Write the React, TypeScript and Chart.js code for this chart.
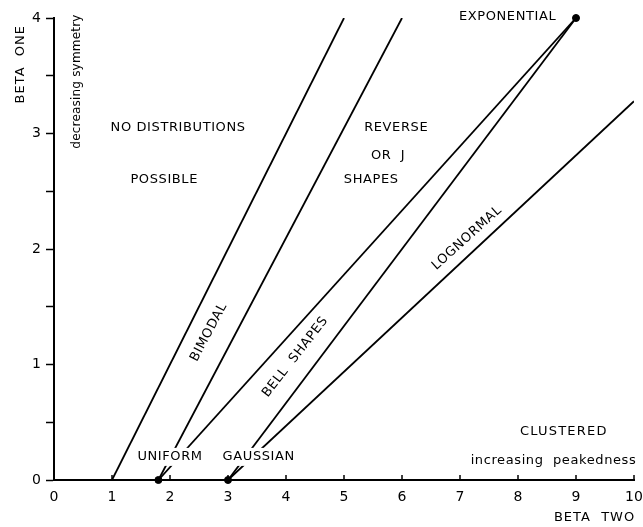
import React, { useEffect, useRef } from "react";
import { Chart, registerables } from "chart.js";

Chart.register(...registerables);

// ---- data ----
const xTickValues = [0, 1, 2, 3, 4, 5, 6, 7, 8, 9, 10];
const yTickStep = 0.5;
const yLabelledTicks = [0, 1, 2, 3, 4];

const impossibleBoundary: [number, number][] = [[1, 0], [5, 4]];
const bimodalBoundary: [number, number][] = [[1.8, 0], [6, 4]];
const uniformToExponential: [number, number][] = [[1.8, 0], [9, 4]];
const gaussianToExponential: [number, number][] = [[3, 0], [9, 4]];
const lognormalLine: [number, number][] = [[3, 0], [10, 3.28]];

const pointNames = ["UNIFORM", "GAUSSIAN", "EXPONENTIAL"];
const pointX = [1.8, 3, 9];
const pointY = [0, 0, 4];

// ---- annotation texts ----
const FONT = "'DejaVu Sans', sans-serif";
type Note = {
  text: string;
  x: number;
  y: number;
  rot?: number;
  align?: CanvasTextAlign;
  bg?: boolean;
  size?: number;
  spacing?: number;
};
const notes: Note[] = [
  { text: "NO DISTRIBUTIONS", x: 2.14, y: 3.05 },
  { text: "POSSIBLE", x: 1.9, y: 2.6 },
  { text: "REVERSE", x: 5.9, y: 3.05 },
  { text: "OR  J", x: 5.76, y: 2.81 },
  { text: "SHAPES", x: 5.47, y: 2.6 },
  { text: "EXPONENTIAL", x: 8.66, y: 4.01, align: "right" },
  { text: "BIMODAL", x: 2.67, y: 1.28, rot: -62 },
  { text: "BELL  SHAPES", x: 4.16, y: 1.065, rot: -52 },
  { text: "LOGNORMAL", x: 7.12, y: 2.095, rot: -42 },
  { text: "UNIFORM", x: 2.0, y: 0.2, bg: true },
  { text: "GAUSSIAN", x: 3.53, y: 0.2, bg: true },
  { text: "CLUSTERED", x: 8.79, y: 0.415, spacing: 1.2 },
  { text: "increasing  peakedness", x: 10.04, y: 0.165, align: "right", spacing: 0.6 },
  { text: "BETA  TWO", x: 10.02, y: -0.33, align: "right", spacing: 1 },
  { text: "BETA  ONE", x: -0.58, y: 3.6, rot: -90, spacing: 1 },
  { text: "decreasing symmetry", x: 0.4, y: 3.45, rot: -90, spacing: 0.2, size: 12 },
];

const toPts = (arr: [number, number][]) => arr.map(([x, y]) => ({ x, y }));

const notesPlugin = {
  id: "notes",
  afterDatasetsDraw(chart: any) {
    const { ctx, scales } = chart;
    const xs = scales.x;
    const ys = scales.y;
    // inner ticks on the x axis
    ctx.save();
    ctx.strokeStyle = "#000";
    ctx.lineWidth = 1.5;
    const bottom = chart.chartArea.bottom;
    xTickValues.forEach((v) => {
      const px = xs.getPixelForValue(v);
      ctx.beginPath();
      ctx.moveTo(px, bottom);
      ctx.lineTo(px, bottom - 5);
      ctx.stroke();
    });
    ctx.restore();

    notes.forEach((n) => {
      const px = xs.getPixelForValue(n.x);
      const py = ys.getPixelForValue(n.y);
      ctx.save();
      ctx.font = `${n.size ?? 13}px ${FONT}`;
      (ctx as any).letterSpacing = `${n.spacing ?? 0.6}px`;
      ctx.textAlign = n.align ?? "center";
      ctx.textBaseline = "middle";
      ctx.translate(px, py);
      if (n.rot) ctx.rotate((n.rot * Math.PI) / 180);
      if (n.bg) {
        const w = ctx.measureText(n.text).width;
        ctx.fillStyle = "#fff";
        ctx.fillRect(-w / 2 - 3, -9, w + 6, 18);
      }
      ctx.fillStyle = "#000";
      ctx.fillText(n.text, 0, 0);
      ctx.restore();
    });
  },
};

export default function App() {
  const ref = useRef<HTMLCanvasElement>(null);
  useEffect(() => {
    document.body.style.margin = "0";
    const lineStyle = {
      showLine: true,
      borderColor: "#000",
      borderWidth: 1.8,
      pointRadius: 0,
      fill: false,
    };
    const chart = new Chart(ref.current!, {
      type: "scatter",
      data: {
        datasets: [
          { ...lineStyle, label: "impossible", data: toPts(impossibleBoundary) },
          { ...lineStyle, label: "bimodal", data: toPts(bimodalBoundary) },
          { ...lineStyle, label: "uniform-exponential", data: toPts(uniformToExponential) },
          { ...lineStyle, label: "gaussian-exponential", data: toPts(gaussianToExponential) },
          { ...lineStyle, label: "lognormal", data: toPts(lognormalLine) },
          {
            label: "points",
            data: pointNames.map((_, i) => ({ x: pointX[i], y: pointY[i] })),
            pointRadius: 3.5,
            pointBackgroundColor: "#000",
            pointBorderColor: "#000",
            showLine: false,
            clip: false as any,
          },
        ],
      },
      options: {
        animation: false,
        responsive: false,
        events: [],
        layout: { padding: { top: 18, right: 9, left: 0, bottom: 0 } },
        plugins: { legend: { display: false }, tooltip: { enabled: false } },
        scales: {
          x: {
            type: "linear",
            min: 0,
            max: 10,
            afterFit: (s: any) => {
              s.height = 47;
              s.paddingRight = 0;
              s.paddingLeft = 0;
            },
            afterBuildTicks: (s: any) => {
              s.ticks = xTickValues.map((v) => ({ value: v }));
            },
            ticks: {
              color: "#000",
              padding: 9,
              font: { family: FONT, size: 14 },
              maxRotation: 0,
              autoSkip: false,
            },
            grid: { display: true, drawOnChartArea: false, drawTicks: false, color: "#000" },
            border: { display: true, color: "#000", width: 2 },
          },
          y: {
            type: "linear",
            min: 0,
            max: 4,
            afterFit: (s: any) => {
              s.width = 54;
              s.paddingTop = 0;
              s.paddingBottom = 0;
            },
            ticks: {
              stepSize: yTickStep,
              color: "#000",
              padding: 5,
              font: { family: FONT, size: 14 },
              autoSkip: false,
              callback: (v: any) => (yLabelledTicks.includes(Number(v)) ? String(v) : ""),
            },
            grid: {
              display: true,
              drawOnChartArea: false,
              drawTicks: true,
              tickLength: 8,
              tickWidth: 1.5,
              color: "#000",
            },
            border: { display: true, color: "#000", width: 2 },
          },
        },
      },
      plugins: [notesPlugin],
    });
    return () => chart.destroy();
  }, []);
  return (
    <div style={{ position: "absolute", left: 0, top: 0, width: 643, height: 527, background: "#fff" }}>
      <canvas ref={ref} width={643} height={527} style={{ display: "block" }} />
    </div>
  );
}
